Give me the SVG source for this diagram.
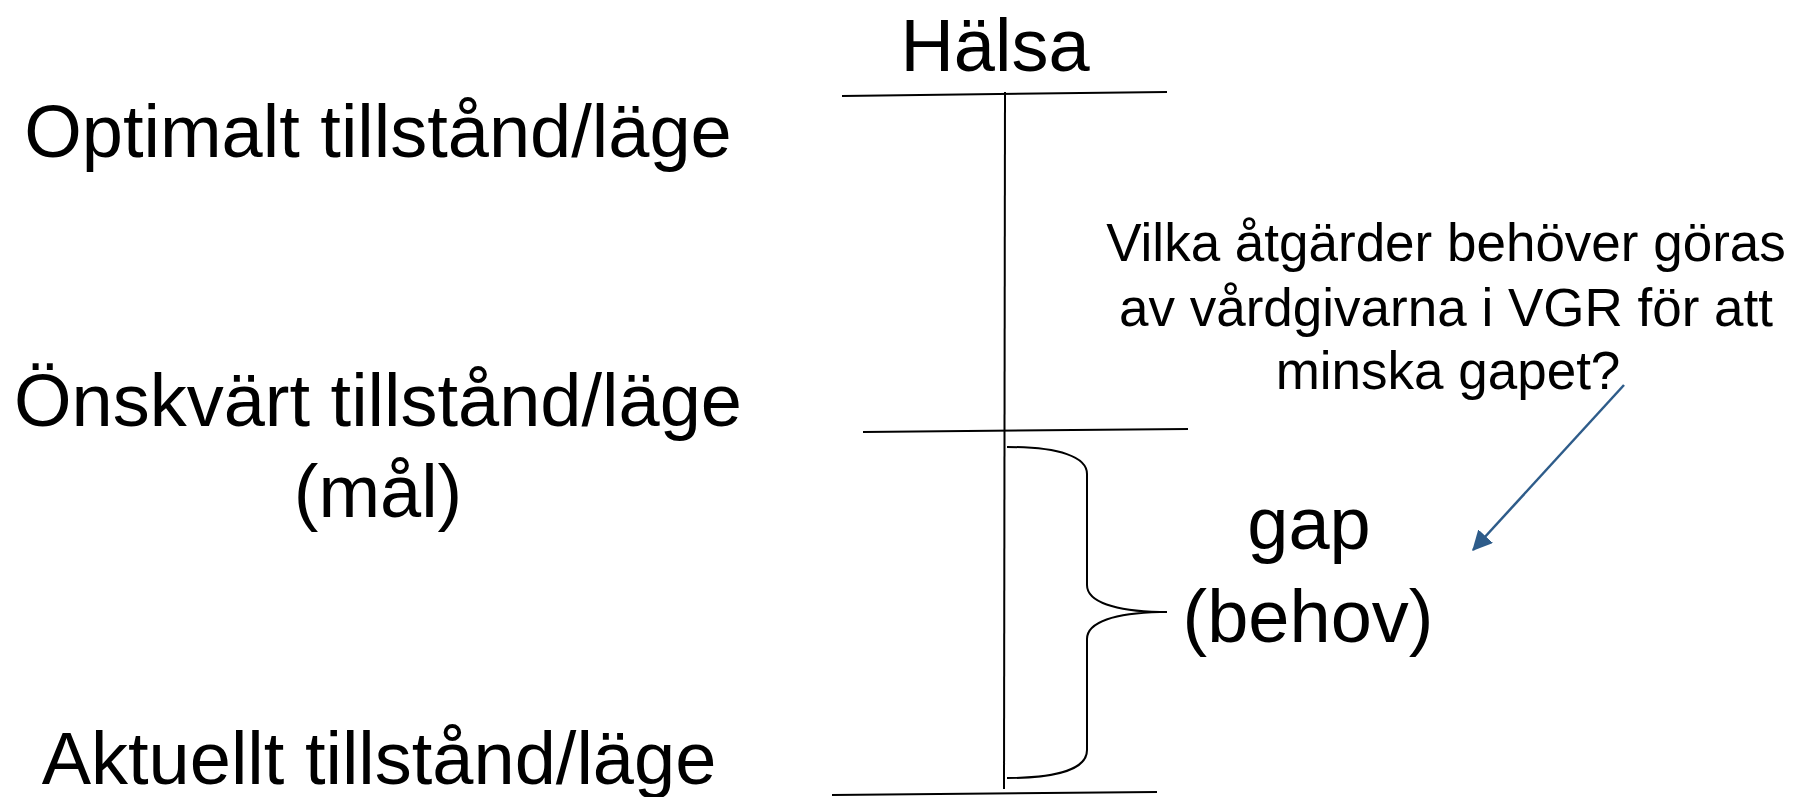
<svg xmlns="http://www.w3.org/2000/svg" width="1795" height="797" viewBox="0 0 1795 797">
<style>
.t{font-family:"Liberation Sans",Arial,sans-serif;fill:#000;text-anchor:middle}
.big{font-size:74px}
.small{font-size:53px}
.ln{stroke:#000;stroke-width:2;fill:none}
.arr{stroke:#2E5C8A;stroke-width:2.5;fill:none}
</style>
<defs>
<marker id="ah" markerWidth="9" markerHeight="9" refX="7.5" refY="4" orient="auto" markerUnits="strokeWidth">
<path d="M0,0 L8,4 L0,8 z" fill="#2E5C8A"/>
</marker>
</defs>
<rect width="1795" height="797" fill="#fff"/>
<g id="connectors">
<line class="ln" x1="842" y1="96" x2="1167" y2="92"/>
<line class="ln" x1="863" y1="432" x2="1188" y2="429"/>
<line class="ln" x1="832" y1="795" x2="1157" y2="792"/>
<line class="ln" x1="1005" y1="92" x2="1004" y2="789"/>
<path class="ln" d="M1007,447 C1060,447 1087,457 1087,474 L1087,585 C1087,602 1115,611 1160,612 L1167,612 M1160,612 C1115,613 1087,622 1087,639 L1087,750 C1087,768 1060,778 1007,778"/>
<line class="arr" x1="1624" y1="385" x2="1473" y2="550" marker-end="url(#ah)"/>
</g>
<g id="halsa"><text class="t big" x="995" y="71">Hälsa</text></g>
<g id="optimalt"><text class="t big" x="378" y="157">Optimalt tillstånd/läge</text></g>
<g id="onskvart"><text class="t big" x="378" y="426">Önskvärt tillstånd/läge</text><text class="t big" x="378" y="517">(mål)</text></g>
<g id="aktuellt"><text class="t big" x="379" y="784">Aktuellt tillstånd/läge</text></g>
<g id="fraga"><text class="t small" x="1446" y="261">Vilka åtgärder behöver göras</text><text class="t small" x="1446" y="326">av vårdgivarna i VGR för att</text><text class="t small" x="1448" y="389">minska gapet?</text></g>
<g id="gap"><text class="t big" x="1309" y="549">gap</text><text class="t big" x="1308" y="642">(behov)</text></g>
</svg>
